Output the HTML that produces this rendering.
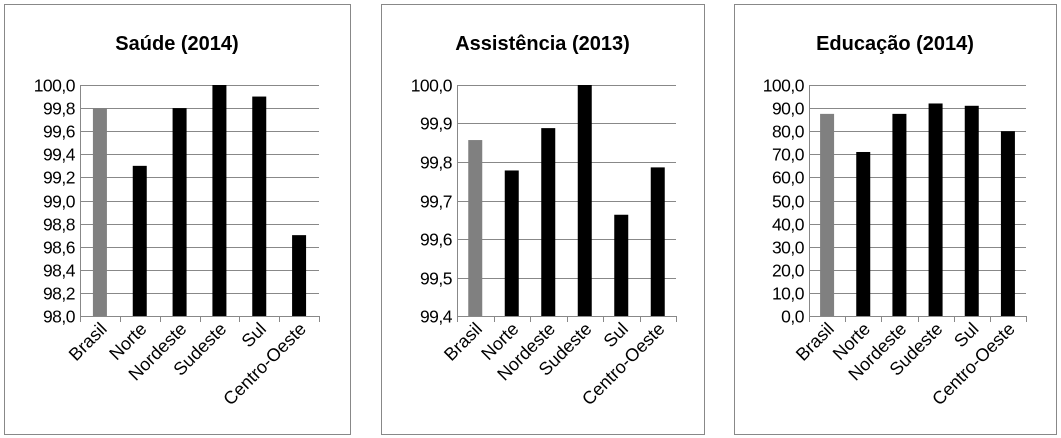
<!DOCTYPE html>
<html><head><meta charset="utf-8"><style>
html,body{margin:0;padding:0;background:#fff;width:1061px;height:438px;overflow:hidden}
svg{display:block}
text{font-family:"Liberation Sans",sans-serif;fill:#000}
</style></head><body>
<svg id="s" width="1061" height="438"></svg>
<script>
const categories=["Brasil","Norte","Nordeste","Sudeste","Sul","Centro-Oeste"];
const saudeValues=[99.8,99.3,99.8,100.0,99.9,98.7];
const saudeTicks=["98,0","98,2","98,4","98,6","98,8","99,0","99,2","99,4","99,6","99,8","100,0"];
const assistValues=[99.857,99.778,99.888,100.0,99.663,99.786];
const assistTicks=["99,4","99,5","99,6","99,7","99,8","99,9","100,0"];
const educValues=[87.5,71.0,87.5,92.0,91.0,80.0];
const educTicks=["0,0","10,0","20,0","30,0","40,0","50,0","60,0","70,0","80,0","90,0","100,0"];
const titles=["Saúde (2014)","Assistência (2013)","Educação (2014)"];

const NS="http://www.w3.org/2000/svg";
const svg=document.getElementById('s');
function mk(tag,attrs,parent){const e=document.createElementNS(NS,tag);for(const k in attrs)e.setAttribute(k,attrs[k]);(parent||svg).appendChild(e);return e;}
function num(t){return parseFloat(t.replace(',','.'));}

function chart(idx,panel,plot,values,ticks){
  const g=mk('g',{});
  
  
  const b=mk('rect',{x:panel.x+.5,y:4.5,width:panel.w,height:430,fill:'#fff',stroke:'#888','stroke-width':1},g);
  
  
  const t=mk('text',{x:panel.x+panel.w/2,y:50,'text-anchor':'middle','font-size':20,'font-weight':'bold'},g);
  t.textContent=titles[idx];
  
  
  const vmin=num(ticks[0]),vmax=num(ticks[ticks.length-1]);
  const y=v=>plot.y1-(v-vmin)/(vmax-vmin)*(plot.y1-plot.y0);
  const n=categories.length,cw=(plot.x1-plot.x0)/n;
  const x=i=>plot.x0+cw*(i+0.5);
  ticks.forEach(tk=>{
    const yy=Math.round(y(num(tk)))+.5;
    const l=mk('line',{x1:plot.x0,x2:plot.x1,y1:yy,y2:yy,stroke:'#888','stroke-width':1},g);
    
    
    const tt=mk('text',{x:plot.x0-5,y:yy+6,'text-anchor':'end','font-size':17.5,'letter-spacing':'-0.5'},g);
    tt.textContent=tk;
    
    
  });
  const ax=mk('line',{x1:plot.x0+.5,x2:plot.x0+.5,y1:plot.y0,y2:plot.y1,stroke:'#888'},g);
  
  
  for(let i=0;i<=n;i++){
    const xx=Math.round(plot.x0+cw*i)+.5;
    const tm=mk('line',{x1:xx,x2:xx,y1:plot.y1,y2:plot.y1+6,stroke:'#888'},g);
    
    
  }
  values.forEach((v,i)=>{
    const bw=14,top=y(v);
    const r=mk('rect',{x:x(i)-bw/2,y:top,width:bw,height:plot.y1-top,fill:i===0?'#808080':'#000'},g);
    
    
    const lx=x(i)+8,ly=plot.y1+14;
    const lt=mk('text',{x:lx,y:ly,'text-anchor':'end','font-size':18,transform:`rotate(-45 ${lx} ${ly})`},g);
    lt.textContent=categories[i];
    
    
  });
}
chart(0,{x:4,w:346},{x0:80,x1:319,y0:85,y1:316},saudeValues,saudeTicks);
chart(1,{x:381,w:323},{x0:457,x1:676,y0:85,y1:316},assistValues,assistTicks);
chart(2,{x:734,w:322},{x0:809,x1:1026,y0:85,y1:316},educValues,educTicks);
</script>
</body></html>
